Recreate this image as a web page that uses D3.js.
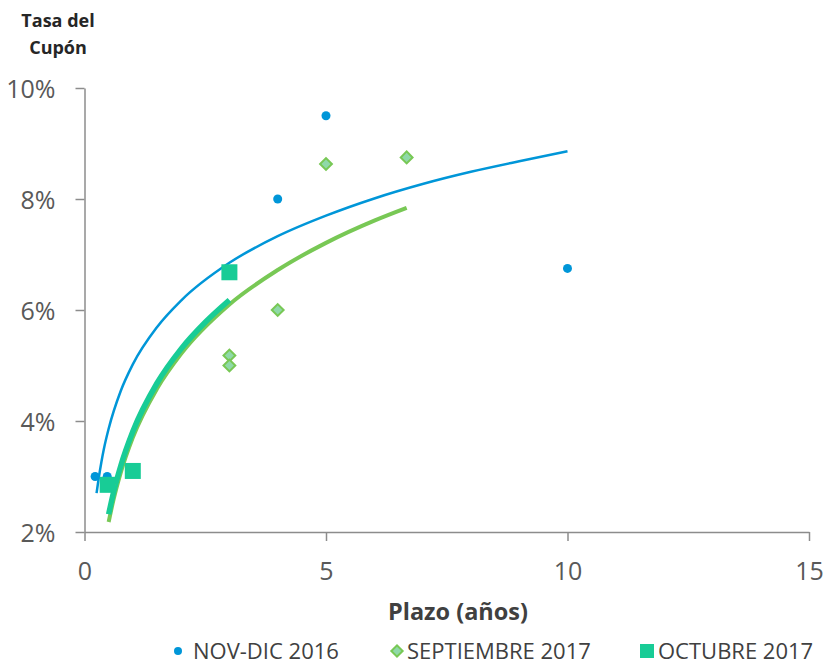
<!DOCTYPE html>
<html>
<head>
<meta charset="utf-8">
<script src="https://cdn.jsdelivr.net/npm/d3@7"></script>
<style>
  body { margin: 0; background: #fff; }
  text { font-family: "Open Sans", sans-serif; }
</style>
</head>
<body>
<script>
// puntos de cada serie (plazo en años, tasa en %)
const novX = [0.22, 0.47, 4, 5, 10];
const novY = [3.0, 3.0, 8.0, 9.5, 6.75];
const sepX = [0.5, 3, 3, 4, 5, 6.67];
const sepY = [2.85, 5.18, 5.0, 6.0, 8.63, 8.75];
const octX = [0.48, 1, 3];
const octY = [2.85, 3.1, 6.68];

// lineas de tendencia
const novTrendX = [0.25, 0.3, 0.35, 0.4, 0.5, 0.75, 1, 1.5, 2, 3, 4, 5, 6, 7, 8, 9, 10];
const novTrendY = [2.70, 3.00, 3.26, 3.49, 3.86, 4.54, 5.02, 5.69, 6.17, 6.85, 7.33, 7.70, 8.01, 8.27, 8.49, 8.68, 8.86];
const sepTrendX = [0.5, 0.6, 0.75, 1, 1.5, 2, 3, 4, 5, 6, 6.67];
const sepTrendY = [2.18, 2.58, 3.07, 3.70, 4.58, 5.21, 6.10, 6.72, 7.21, 7.61, 7.84];
const octTrendX = [0.5, 0.6, 0.75, 1, 1.5, 2, 2.5, 3];
const octTrendY = [2.32, 2.71, 3.19, 3.81, 4.68, 5.30, 5.78, 6.18];

const xTicks = [0, 5, 10, 15];
const yTicks = [2, 4, 6, 8, 10];
const legendNames = ["NOV-DIC 2016", "SEPTIEMBRE 2017", "OCTUBRE 2017"];

const blue = "#0096d8", green = "#78c855", greenFill = "#8fd9a8", teal = "#18cc96";

const svg = d3.select("body").append("svg")
    .attr("width", 825).attr("height", 666);

const x = d3.scaleLinear().domain([0, 15]).range([84.5, 809]);
const y = d3.scaleLinear().domain([2, 10]).range([532, 88]);

// ejes
const xAxis = svg.append("g")
    .attr("transform", "translate(0,532)")
    .call(d3.axisBottom(x).tickValues(xTicks).tickSize(9).tickSizeOuter(0).tickPadding(10));
const yAxis = svg.append("g")
    .attr("transform", "translate(84.5,0)")
    .call(d3.axisLeft(y).tickValues(yTicks).tickSize(9).tickSizeOuter(0).tickPadding(20)
        .tickFormat(d => d + "%"));
[xAxis, yAxis].forEach(g => {
    g.select(".domain").attr("stroke", "#8c8c8c").attr("stroke-width", 1.5);
    g.selectAll(".tick line").attr("stroke", "#8c8c8c").attr("stroke-width", 1.5);
    g.selectAll(".tick text").attr("fill", "#595959")
        .style("font-size", "25px").style("font-family", "Open Sans");
});
xAxis.selectAll(".tick text").attr("dy", "1.15em");
yAxis.selectAll(".tick text").attr("dy", "0.36em");

// tendencias
const line = d3.line().x(d => x(d[0])).y(d => y(d[1])).curve(d3.curveMonotoneX);
svg.append("path").datum(d3.zip(novTrendX, novTrendY))
    .attr("d", line).attr("fill", "none").attr("stroke", blue).attr("stroke-width", 2.5);
svg.append("path").datum(d3.zip(sepTrendX, sepTrendY))
    .attr("d", line).attr("fill", "none").attr("stroke", green).attr("stroke-width", 4);
svg.append("path").datum(d3.zip(octTrendX, octTrendY))
    .attr("d", line).attr("fill", "none").attr("stroke", teal).attr("stroke-width", 5.5);

// puntos
svg.append("g").selectAll("circle").data(d3.zip(novX, novY)).join("circle")
    .attr("cx", d => x(d[0])).attr("cy", d => y(d[1])).attr("r", 4.5).attr("fill", blue);

const diamond = d3.symbol().type(d3.symbolSquare).size(70);
svg.append("g").selectAll("path").data(d3.zip(sepX, sepY)).join("path")
    .attr("d", diamond)
    .attr("transform", d => `translate(${x(d[0])},${y(d[1])}) rotate(45)`)
    .attr("fill", greenFill).attr("stroke", green).attr("stroke-width", 2);

svg.append("g").selectAll("rect").data(d3.zip(octX, octY)).join("rect")
    .attr("x", d => x(d[0]) - 8).attr("y", d => y(d[1]) - 8)
    .attr("width", 16).attr("height", 16).attr("fill", teal);

// titulos
const yTitle = svg.append("text").attr("x", 58).attr("y", 27)
    .attr("text-anchor", "middle").attr("fill", "#262626")
    .style("font-size", "18px").style("font-weight", "bold");
yTitle.append("tspan").attr("x", 58).text("Tasa del");
yTitle.append("tspan").attr("x", 58).attr("dy", 27).text("Cupón");

svg.append("text").attr("x", 458).attr("y", 620).attr("text-anchor", "middle")
    .attr("fill", "#404040").style("font-size", "23.5px").style("font-weight", "bold")
    .text("Plazo (años)");

// leyenda
const legX = [178, 397, 647];
const leg = svg.append("g").selectAll("g").data(legendNames).join("g")
    .attr("transform", (d, i) => `translate(${legX[i]},651)`);
leg.filter((d, i) => i === 0).append("circle").attr("r", 4).attr("fill", blue);
leg.filter((d, i) => i === 1).append("path")
    .attr("d", d3.symbol().type(d3.symbolSquare).size(64)).attr("transform", "rotate(45)")
    .attr("fill", greenFill).attr("stroke", green).attr("stroke-width", 2);
leg.filter((d, i) => i === 2).append("rect")
    .attr("x", -7).attr("y", -7).attr("width", 14).attr("height", 14).attr("fill", teal);
leg.append("text").attr("x", (d, i) => [15, 10, 11][i]).attr("dy", "0.36em")
    .attr("fill", "#404040").style("font-size", "22px").text(d => d);
</script>
</body>
</html>
